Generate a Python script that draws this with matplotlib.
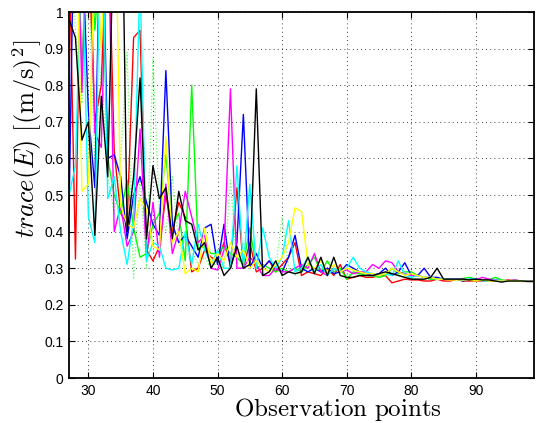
import numpy as np
import matplotlib
matplotlib.use("Agg")
import matplotlib.pyplot as plt

# observation index
obs = np.arange(27, 100)

# trace(E) per run (values above 1 are clipped by the axis)
red = [1.20, 0.325, 1.40, 1.20, 0.70, 0.80, 1.30, 0.62, 0.45, 0.42,
       0.93, 0.95, 0.35, 0.32, 0.36, 0.50, 0.40, 0.48, 0.44, 0.29,
       0.30, 0.35, 0.33, 0.32, 0.37, 0.31, 0.52, 0.30, 0.37, 0.29,
       0.30, 0.32, 0.29, 0.31, 0.33, 0.37, 0.28, 0.29, 0.285, 0.28,
       0.30, 0.28, 0.31, 0.27, 0.275, 0.28, 0.275, 0.275, 0.28, 0.28,
       0.26, 0.265, 0.27, 0.268, 0.268, 0.265, 0.265, 0.27, 0.265, 0.265,
       0.27, 0.265, 0.265, 0.265, 0.265, 0.265, 0.265, 0.265, 0.268, 0.265,
       0.264, 0.264, 0.264]
green = [1.10, 1.40, 0.84, 1.30, 0.95, 1.20, 0.60, 0.50, 0.45, 0.54,
         0.41, 0.33, 0.34, 0.42, 0.45, 0.61, 0.42, 0.45, 0.32, 0.80,
         0.35, 0.36, 0.34, 0.34, 0.36, 0.34, 0.33, 0.31, 0.41, 0.30,
         0.31, 0.30, 0.29, 0.30, 0.29, 0.30, 0.29, 0.31, 0.33, 0.29,
         0.32, 0.29, 0.30, 0.27, 0.29, 0.285, 0.28, 0.28, 0.275, 0.28,
         0.30, 0.285, 0.29, 0.29, 0.28, 0.275, 0.27, 0.27, 0.27, 0.27,
         0.27, 0.272, 0.275, 0.27, 0.268, 0.268, 0.275, 0.268, 0.265, 0.268,
         0.265, 0.264, 0.264]
blue = [0.45, 1.50, 1.20, 0.73, 0.52, 1.40, 0.60, 0.61, 0.55, 0.38,
        0.50, 0.55, 0.48, 0.42, 0.39, 0.84, 0.42, 0.37, 0.39, 0.36,
        0.33, 0.41, 0.42, 0.31, 0.42, 0.30, 0.37, 0.72, 0.30, 0.34,
        0.30, 0.32, 0.30, 0.29, 0.33, 0.39, 0.30, 0.29, 0.30, 0.29,
        0.30, 0.285, 0.29, 0.31, 0.30, 0.29, 0.285, 0.28, 0.285, 0.30,
        0.28, 0.29, 0.315, 0.28, 0.28, 0.30, 0.275, 0.275, 0.27, 0.27,
        0.27, 0.265, 0.27, 0.27, 0.268, 0.265, 0.268, 0.265, 0.265, 0.265,
        0.265, 0.264, 0.264]
magenta = [1.20, 1.50, 0.78, 1.40, 0.67, 0.63, 1.30, 0.40, 0.47, 0.36,
           0.40, 0.68, 0.33, 0.48, 0.33, 0.53, 0.34, 0.40, 0.51, 0.44,
           0.37, 0.39, 0.30, 0.295, 0.35, 0.79, 0.30, 0.30, 0.33, 0.31,
           0.28, 0.28, 0.30, 0.29, 0.29, 0.30, 0.31, 0.30, 0.34, 0.29,
           0.28, 0.30, 0.29, 0.295, 0.285, 0.29, 0.29, 0.31, 0.30, 0.32,
           0.315, 0.29, 0.285, 0.28, 0.28, 0.275, 0.275, 0.27, 0.27, 0.27,
           0.27, 0.27, 0.268, 0.268, 0.275, 0.27, 0.268, 0.265, 0.265, 0.268,
           0.265, 0.264, 0.264]
cyan = [0.50, 0.58, 1.20, 0.44, 0.37, 1.40, 0.49, 0.55, 0.40, 0.31,
        0.43, 1.10, 0.32, 0.37, 0.36, 0.30, 0.295, 0.30, 0.40, 0.31,
        0.42, 0.35, 0.31, 0.35, 0.30, 0.30, 0.58, 0.30, 0.53, 0.30,
        0.41, 0.33, 0.30, 0.33, 0.43, 0.29, 0.30, 0.33, 0.29, 0.31,
        0.28, 0.30, 0.29, 0.30, 0.33, 0.30, 0.29, 0.285, 0.28, 0.285,
        0.28, 0.32, 0.28, 0.275, 0.28, 0.275, 0.275, 0.27, 0.27, 0.27,
        0.27, 0.268, 0.27, 0.27, 0.265, 0.265, 0.268, 0.265, 0.265, 0.265,
        0.265, 0.264, 0.264]
yellow = [1.30, 1.40, 0.51, 0.53, 1.20, 0.90, 1.40, 1.50, 0.47, 0.42,
          0.41, 0.49, 0.46, 0.36, 0.35, 0.66, 0.37, 0.40, 0.285, 0.30,
          0.29, 0.41, 0.31, 0.34, 0.32, 0.37, 0.33, 0.35, 0.30, 0.32,
          0.30, 0.29, 0.31, 0.33, 0.37, 0.465, 0.455, 0.31, 0.30, 0.32,
          0.29, 0.31, 0.29, 0.30, 0.295, 0.29, 0.285, 0.285, 0.28, 0.285,
          0.30, 0.29, 0.28, 0.285, 0.28, 0.275, 0.275, 0.27, 0.27, 0.268,
          0.268, 0.268, 0.268, 0.265, 0.268, 0.265, 0.265, 0.265, 0.265, 0.265,
          0.264, 0.264, 0.264]
black = [0.98, 0.93, 0.65, 0.70, 0.39, 0.77, 0.55, 1.30, 1.60, 0.40,
         0.55, 0.82, 0.38, 0.58, 0.49, 0.52, 0.38, 0.51, 0.43, 0.42,
         0.35, 0.37, 0.30, 0.33, 0.28, 0.30, 0.36, 0.30, 0.31, 0.79,
         0.28, 0.29, 0.32, 0.28, 0.29, 0.285, 0.29, 0.33, 0.285, 0.33,
         0.28, 0.33, 0.28, 0.275, 0.275, 0.28, 0.28, 0.28, 0.285, 0.29,
         0.285, 0.28, 0.275, 0.27, 0.27, 0.27, 0.275, 0.30, 0.27, 0.27,
         0.27, 0.27, 0.268, 0.27, 0.268, 0.268, 0.265, 0.262, 0.265, 0.265,
         0.265, 0.264, 0.264]
green_dotted = [1.20, 0.95, 0.75, 1.10, 0.60, 0.85, 0.55, 0.45, 0.60, 0.89,
                0.27, 0.55, 0.30, 0.87, 0.45, 0.40, 0.55, 0.37, 0.33, 0.35,
                0.31, 0.33, 0.30, 0.32, 0.30, 0.54, 0.31, 0.37, 0.30, 0.32,
                0.30, 0.29, 0.30, 0.44, 0.30, 0.28, 0.29, 0.30, 0.29, 0.30,
                0.28, 0.29, 0.30, 0.28, 0.285, 0.28, 0.28, 0.275, 0.28, 0.28,
                0.29, 0.28, 0.275, 0.275, 0.27, 0.27, 0.27, 0.272, 0.27, 0.27,
                0.268, 0.27, 0.268, 0.268, 0.27, 0.265, 0.265, 0.265, 0.265, 0.265,
                0.264, 0.264, 0.264]

plt.rcParams['mathtext.fontset'] = 'cm'

fig = plt.figure(figsize=(5.37, 4.23), dpi=100)
ax = fig.add_axes([69/537, 45/423, 465/537, 366/423])

ax.plot(obs, green_dotted, color='#00ff00', ls=':', lw=0.9, alpha=0.6)
runs = [(red, '#ff0000'), (green, '#00ff00'), (blue, '#0000ff'),
        (magenta, '#ff00ff'), (cyan, '#00ffff'), (yellow, '#ffff00'),
        (black, '#000000')]
for vals, col in runs:
    ax.plot(obs, vals, color=col, lw=1.0)

ax.set_xlim(27, 99)
ax.set_ylim(0, 1)
ax.set_xticks(np.arange(30, 100, 10))
ax.set_yticks(np.arange(0, 1.01, 0.1))
ax.set_yticklabels(['0', '0.1', '0.2', '0.3', '0.4', '0.5', '0.6', '0.7', '0.8', '0.9', '1'])
ax.grid(True, color='black', ls=(0, (1, 4)), lw=0.6)
ax.tick_params(direction='in', length=4, width=0.8, top=True, right=True,
               labelsize=10, pad=4)
for lab in ax.get_xticklabels() + ax.get_yticklabels():
    lab.set_family('Liberation Sans')
for sp in ax.spines.values():
    sp.set_linewidth(1.3)

ax.set_xlabel(r'$\mathrm{Observation\ points}$', fontsize=18)
ax.xaxis.set_label_coords(0.578, -0.087)
ax.xaxis.label.set_va('center')
ax.set_ylabel(r'$trace(E)\ [(\mathrm{m/s})^2]$', fontsize=19)
ax.yaxis.set_label_coords(-0.09, 0.653)
ax.yaxis.label.set_va('center')

fig.savefig('out.png', dpi=100)
